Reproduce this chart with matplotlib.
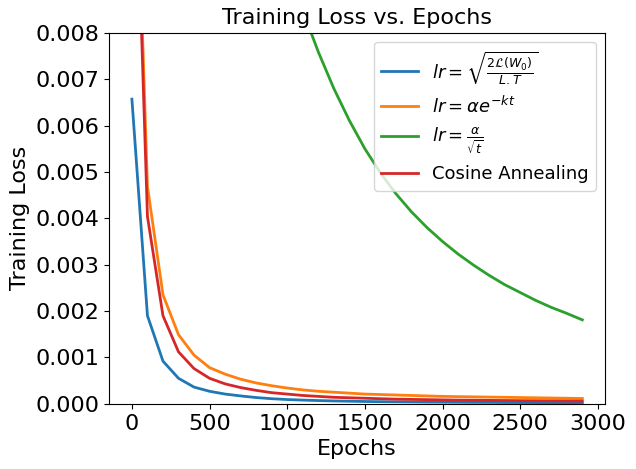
import matplotlib
matplotlib.use("Agg")
import matplotlib.pyplot as plt

epochs = list(range(0, 3000, 100))

loss_sqrt = [0.00657, 0.0019, 0.00092, 0.00055, 0.00036, 0.00027, 0.00021, 0.00017,
             0.000135, 0.00011, 0.000092, 0.00008, 0.00007, 0.000062, 0.000056, 0.00005,
             0.000046, 0.000043, 0.00004, 0.000037, 0.000035, 0.000033, 0.000031, 0.00003,
             0.000028, 0.000027, 0.000026, 0.000025, 0.000024, 0.000023]
loss_exp = [0.0150, 0.00469, 0.00235, 0.00149, 0.00105, 0.00078, 0.00064, 0.00053,
            0.00045, 0.00039, 0.00034, 0.0003, 0.00027, 0.00025, 0.00023, 0.00021,
            0.0002, 0.00019, 0.00018, 0.00017, 0.00016, 0.000155, 0.00015, 0.000145,
            0.00014, 0.000135, 0.00013, 0.000125, 0.00012, 0.000115]
loss_invsqrt = [0.06, 0.045, 0.036, 0.029, 0.024, 0.020, 0.017, 0.0145, 0.0125, 0.0109,
                0.0096, 0.00848, 0.00759, 0.00680, 0.00611, 0.00550, 0.00498, 0.00453,
                0.00414, 0.00380, 0.00350, 0.00323, 0.00299, 0.00277, 0.00257, 0.00240,
                0.00223, 0.00208, 0.00195, 0.00181]
loss_cos = [0.0145, 0.00404, 0.0019, 0.00112, 0.00076, 0.00055, 0.00043, 0.00035,
            0.00029, 0.00024, 0.00021, 0.00018, 0.00016, 0.00014, 0.00013, 0.00012,
            0.00011, 0.0001, 0.000095, 0.00009, 0.000085, 0.00008, 0.000077, 0.000074,
            0.000071, 0.000068, 0.000066, 0.000064, 0.000062, 0.00006]

labels = [r'$lr = \sqrt{\frac{2\mathcal{L}(W_0)}{L.T}}$',
          r'$lr = \alpha e^{-kt}$',
          r'$lr = \frac{\alpha}{\sqrt{t}}$',
          'Cosine Annealing']

fig = plt.figure(figsize=(6.36, 4.69), dpi=100)
ax = fig.add_axes([0.172, 0.139, 0.779, 0.791])

for ys, lab in zip([loss_sqrt, loss_exp, loss_invsqrt, loss_cos], labels):
    ax.plot(epochs, ys, linewidth=2, label=lab)

ax.set_ylim(0, 0.008)
ax.set_xticks([0, 500, 1000, 1500, 2000, 2500, 3000])
ax.tick_params(labelsize=16)
ax.set_xlabel("Epochs", fontsize=16)
ax.set_ylabel("Training Loss", fontsize=16)
ax.set_title("Training Loss vs. Epochs", fontsize=16)
ax.legend(loc="upper right", fontsize=13)

fig.savefig("out.png", dpi=100)
